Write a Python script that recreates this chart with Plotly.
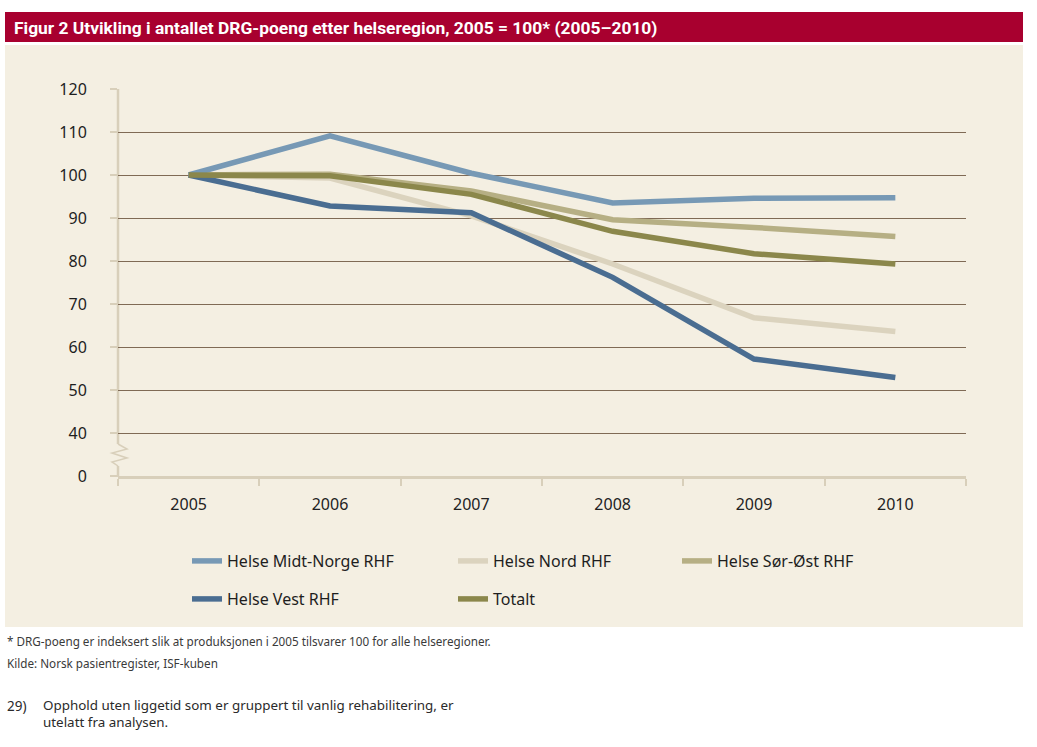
import plotly.graph_objects as go

years = ["2005", "2006", "2007", "2008", "2009", "2010"]
midt_norge = [100, 109.1, 100.4, 93.5, 94.6, 94.7]
nord = [100, 99.3, 90.5, 79.3, 66.8, 63.6]
sor_ost = [100, 100.2, 96.3, 89.6, 87.8, 85.7]
vest = [100, 92.8, 91.2, 76.2, 57.2, 52.9]
totalt = [100, 99.8, 95.5, 86.9, 81.7, 79.3]

ytick_vals = [30, 40, 50, 60, 70, 80, 90, 100, 110, 120]
ytick_text = ["0", "40", "50", "60", "70", "80", "90", "100", "110", "120"]

W, H = 1037, 747
L, R, T, B = 118, 966, 89, 476  # plot area in page px


def px(x):
    return (x - L) / (R - L)


def py(y):
    return (B - y) / (B - T)


series = [
    ("Helse Nord RHF", nord, "#dbd3be", "legend2"),
    ("Helse Sør-Øst RHF", sor_ost, "#b6af84", "legend3"),
    ("Helse Midt-Norge RHF", midt_norge, "#7799b5", "legend"),
    ("Helse Vest RHF", vest, "#4a6d91", "legend4"),
    ("Totalt", totalt, "#8b874b", "legend5"),
]

fig = go.Figure()
for name, vals, col, lg in series:
    fig.add_trace(go.Scatter(
        x=years, y=vals, name=name, mode="lines",
        line=dict(color=col, width=5.5),
        legend=lg, showlegend=True,
    ))

font_main = "Noto Sans, Open Sans, sans-serif"
axis_col = "#d8cfba"

legend_common = dict(
    orientation="h", xanchor="left", yanchor="middle",
    bgcolor="rgba(0,0,0,0)", borderwidth=0,
    font=dict(family=font_main, size=16, color="#1e1e1e"),
)
legend_pos = {
    "legend": (187, 561),
    "legend2": (453, 561),
    "legend3": (677, 561),
    "legend4": (187, 599),
    "legend5": (453, 599),
}
for k, (lx, ly) in legend_pos.items():
    fig.update_layout({k: dict(x=px(lx), y=py(ly), **legend_common)})

shapes = [
    # beige panel
    dict(type="rect", xref="paper", yref="paper", x0=px(5), x1=px(1023), y0=py(45), y1=py(627),
         fillcolor="#f4efe2", line=dict(width=0), layer="below"),
    # title bar
    dict(type="rect", xref="paper", yref="paper", x0=px(5), x1=px(1023), y0=py(12), y1=py(42),
         fillcolor="#a8002f", line=dict(width=0), layer="below"),
    # y axis line upper part
    dict(type="line", xref="paper", yref="paper", x0=0, x1=0, y0=py(89), y1=py(444),
         line=dict(color=axis_col, width=2.5), layer="below"),
    # y axis line lower part
    dict(type="line", xref="paper", yref="paper", x0=0, x1=0, y0=py(466), y1=py(477),
         line=dict(color=axis_col, width=2.5), layer="below"),
]
zz = [(118, 444), (127, 449), (112, 453), (127, 458), (112, 462), (118, 466)]
path = "M " + " L ".join(f"{px(a):.5f},{py(b):.5f}" for a, b in zz)
shapes.append(dict(type="path", xref="paper", yref="paper", path=path,
                   line=dict(color=axis_col, width=1.5), layer="below"))

annotations = [
    dict(text="<b>Figur 2 Utvikling i antallet DRG-poeng etter helseregion, 2005 = 100* (2005–2010)</b>",
         xref="paper", yref="paper", x=px(12), y=py(28), xanchor="left", yanchor="middle",
         showarrow=False, font=dict(family="Liberation Sans Narrow, Roboto, sans-serif", size=17.4, color="white")),
    dict(text="* DRG-poeng er indeksert slik at produksjonen i 2005 tilsvarer 100 for alle helseregioner.",
         xref="paper", yref="paper", x=px(5), y=py(641), xanchor="left", yanchor="middle",
         showarrow=False, font=dict(family=font_main, size=11.7, color="#3a3a3a")),
    dict(text="Kilde: Norsk pasientregister, ISF-kuben",
         xref="paper", yref="paper", x=px(5), y=py(663), xanchor="left", yanchor="middle",
         showarrow=False, font=dict(family=font_main, size=11.7, color="#3a3a3a")),
    dict(text="29)",
         xref="paper", yref="paper", x=px(5), y=py(706), xanchor="left", yanchor="middle",
         showarrow=False, font=dict(family=font_main, size=13.5, color="#2a2a2a")),
    dict(text="Opphold uten liggetid som er gruppert til vanlig rehabilitering, er<br>utelatt fra analysen.",
         xref="paper", yref="paper", x=px(41), y=py(713), xanchor="left", yanchor="middle", align="left",
         showarrow=False, font=dict(family=font_main, size=13.4, color="#2a2a2a")),
]

fig.update_layout(
    width=W, height=H,
    margin=dict(l=L, r=W - R, t=T, b=H - B, pad=0),
    paper_bgcolor="white", plot_bgcolor="rgba(0,0,0,0)",
    shapes=shapes, annotations=annotations,
    xaxis=dict(
        type="category", range=[-0.5, 5.5], tickson="boundaries",
        showgrid=False, showline=True, linecolor=axis_col, linewidth=2.5,
        ticks="outside", ticklen=7, tickcolor=axis_col, tickwidth=2,
        ticklabelstandoff=12,
        tickfont=dict(family=font_main, size=16, color="#222"),
        zeroline=False,
    ),
    yaxis=dict(
        range=[30, 120], tickvals=ytick_vals, ticktext=ytick_text,
        showgrid=True, gridcolor="#7f6a55", gridwidth=1,
        showline=False, zeroline=False,
        ticks="outside", ticklen=7, tickcolor=axis_col, tickwidth=2,
        ticklabelstandoff=20,
        tickfont=dict(family=font_main, size=16, color="#1e1e1e"),
    ),
)

fig.write_html(
    "out.html",
    config={"displayModeBar": False},
    post_script="document.body.style.margin='0';document.body.style.overflow='hidden';",
)
